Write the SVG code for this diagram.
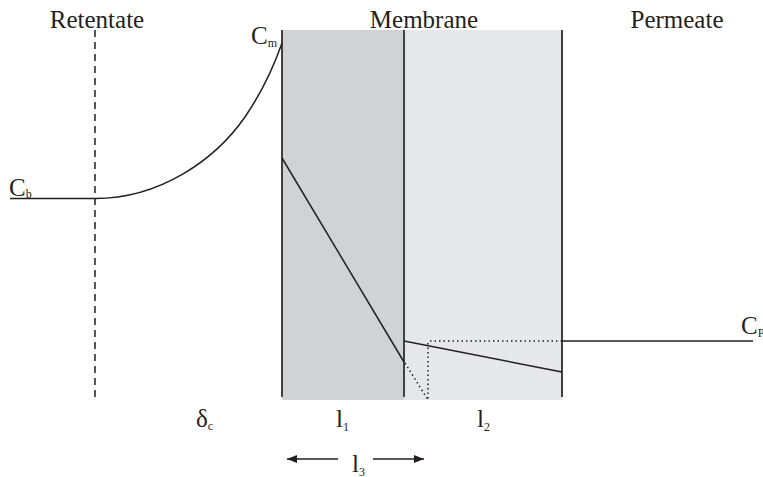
<svg xmlns="http://www.w3.org/2000/svg" width="763" height="477" viewBox="0 0 763 477">
<style>
text{font-family:"Liberation Serif","Times New Roman",serif;fill:#231f20}
.t{font-size:25px}
.s{font-size:12px}
.ln{stroke:#231f20;stroke-width:1.5;fill:none}
.wall{stroke:#414042;stroke-width:2;fill:none}
.dot{stroke:#231f20;stroke-width:1.5;stroke-dasharray:1.5 3;fill:none}
</style>
<defs>
<marker id="ah" markerWidth="10" markerHeight="8" refX="10" refY="4" orient="auto" markerUnits="userSpaceOnUse">
<path d="M0,0 L10,4 L0,8 Z" fill="#231f20"/>
</marker>
</defs>
<rect width="763" height="477" fill="#fff"/>
<g id="membrane">
<rect x="282" y="30" width="122" height="370" fill="#d1d2d4"/>
<rect x="404" y="30" width="158" height="370" fill="#e6e7e8"/>
<line class="wall" x1="282" y1="30" x2="282" y2="397"/>
<line class="wall" x1="404" y1="30" x2="404" y2="397"/>
<line class="wall" x1="562" y1="30" x2="562" y2="397"/>
</g>
<g id="labels">
<text class="t" x="97" y="28" text-anchor="middle">Retentate</text>
<text class="t" x="424" y="28" text-anchor="middle">Membrane</text>
<text class="t" x="677" y="28" text-anchor="middle">Permeate</text>
<text class="t" x="251" y="44">C<tspan class="s" dy="3">m</tspan></text>
<text class="t" x="9" y="196">C<tspan class="s" dy="2">b</tspan></text>
<text class="t" x="741" y="334">C<tspan class="s" dy="3">P</tspan></text>
<text class="t" x="196" y="427">δ<tspan class="s" dy="3">c</tspan></text>
<text class="t" x="336" y="427">l<tspan class="s" dy="4">1</tspan></text>
<text class="t" x="477" y="427">l<tspan class="s" dy="4">2</tspan></text>
<text class="t" x="352" y="472">l<tspan class="s" dy="4">3</tspan></text>
</g>
<g id="connectors">
<line x1="95" y1="30" x2="95" y2="398" stroke="#231f20" stroke-width="1.5" stroke-dasharray="7 5"/>
<path class="ln" d="M10,198.5 L95,198.5 C160,198.5 215,160 245,117 C262,92 274,66 282,43"/>
<line class="ln" x1="282" y1="158" x2="404" y2="362"/>
<line class="ln" x1="404" y1="341" x2="562" y2="372"/>
<line class="ln" x1="562" y1="341" x2="753" y2="341"/>
<line class="dot" x1="430" y1="341" x2="562" y2="341"/>
<line class="dot" x1="428" y1="343" x2="428" y2="401"/>
<line class="dot" x1="405" y1="363" x2="428" y2="400"/>
<line class="ln" x1="338" y1="459" x2="287" y2="459" marker-end="url(#ah)"/>
<line class="ln" x1="373" y1="459" x2="424" y2="459" marker-end="url(#ah)"/>
</g>
</svg>
